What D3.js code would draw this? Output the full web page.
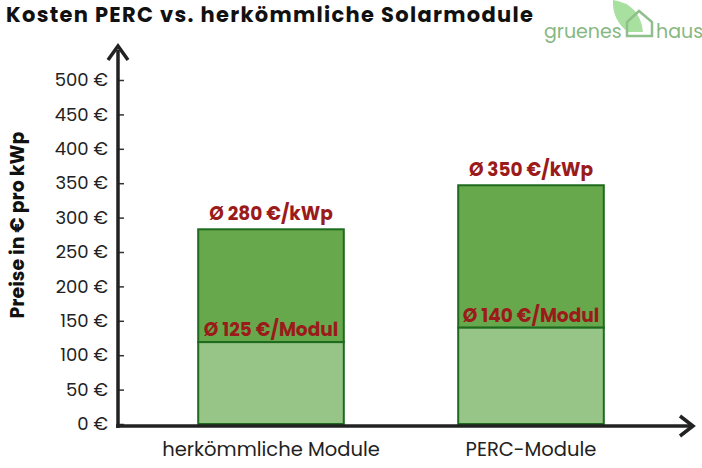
<!DOCTYPE html><html><head><meta charset="utf-8"><script src="https://cdn.jsdelivr.net/npm/d3@7"></script>
<style>body{margin:0;background:#fff}text{font-family:Poppins,"Open Sans",sans-serif}</style></head><body><svg id="c" width="702" height="468"></svg>
<script>
const categories=["herkömmliche Module","PERC-Module"];
const totalValues=[283,347];
const moduleValues=[119,140];
const topLabels=["Ø 280 €/kWp","Ø 350 €/kWp"];
const moduleLabels=["Ø 125 €/Modul","Ø 140 €/Modul"];
const yTicks=[0,50,100,150,200,250,300,350,400,450,500];
const svg=d3.select("#c");
const y=d3.scaleLinear().domain([0,500]).range([424,80]);
const x=d3.scaleBand().domain(categories).range([128,674]).paddingInner(0.44).paddingOuter(0.27);
svg.append("text").attr("x",6).attr("y",22).attr("font-size",21).attr("font-weight",700).attr("fill","#111").attr("textLength",527).text("Kosten PERC vs. herkömmliche Solarmodule");
const g=svg.append("g");
g.append("path").attr("d","M613,0 Q640,4 643,32 L628,32 Q612,20 613,0Z").attr("fill","#a8e0a0");
g.append("path").attr("d","M627,22 L627,36 L652,36 L652,22 L639,11 Z").attr("fill","none").attr("stroke","#8fbf8a").attr("stroke-width",2.5);
g.append("text").attr("x",544).attr("y",38).attr("font-size",19).attr("fill","#86b883").text("gruenes");
g.append("text").attr("x",656).attr("y",38).attr("font-size",19).attr("fill","#86b883").text("haus");
categories.forEach((c,i)=>{
 const bx=x(c),bw=x.bandwidth();
 svg.append("rect").attr("x",bx).attr("y",y(totalValues[i])).attr("width",bw).attr("height",y(moduleValues[i])-y(totalValues[i])).attr("fill","#67a84d").attr("stroke","#1e6b1e").attr("stroke-width",2);
 svg.append("rect").attr("x",bx).attr("y",y(moduleValues[i])).attr("width",bw).attr("height",y(0)-y(moduleValues[i])).attr("fill","#97c487").attr("stroke","#1e6b1e").attr("stroke-width",2);
 svg.append("text").attr("x",bx+bw/2).attr("y",y(totalValues[i])-9).attr("text-anchor","middle").attr("font-size",18.5).attr("font-weight",700).attr("fill","#9b1a1a").text(topLabels[i]);
 svg.append("text").attr("x",bx+bw/2).attr("y",y(moduleValues[i])-6).attr("text-anchor","middle").attr("font-size",18.5).attr("font-weight",700).attr("fill","#9b1a1a").text(moduleLabels[i]);
 svg.append("text").attr("x",bx+bw/2).attr("y",456).attr("text-anchor","middle").attr("font-size",19.5).attr("fill","#222").text(c);
});
const ax=svg.append("g").attr("transform","translate(118,0)").call(d3.axisLeft(y).tickValues(yTicks).tickFormat(d=>d+" €").tickSize(6).tickPadding(4));
ax.select(".domain").remove();
ax.selectAll("line").attr("stroke","#333").attr("stroke-width",1.5).attr("x2",6);
ax.selectAll("text").attr("font-size",18).attr("fill","#222").attr("font-family","Poppins,'Open Sans',sans-serif");
svg.append("line").attr("x1",118).attr("x2",118).attr("y1",428).attr("y2",50).attr("stroke","#222").attr("stroke-width",3.5);
svg.append("path").attr("d","M108,60 L118,46 L128,60").attr("fill","none").attr("stroke","#222").attr("stroke-width",3.5);
svg.append("line").attr("x1",116).attr("x2",690).attr("y1",426).attr("y2",426).attr("stroke","#222").attr("stroke-width",3.5);
svg.append("path").attr("d","M680,416 L693,426 L680,436").attr("fill","none").attr("stroke","#222").attr("stroke-width",3.5);
svg.append("text").attr("transform","translate(24,225) rotate(-90)").attr("text-anchor","middle").attr("font-size",19).attr("font-weight",700).attr("fill","#111").text("Preise in € pro kWp");
</script></body></html>
